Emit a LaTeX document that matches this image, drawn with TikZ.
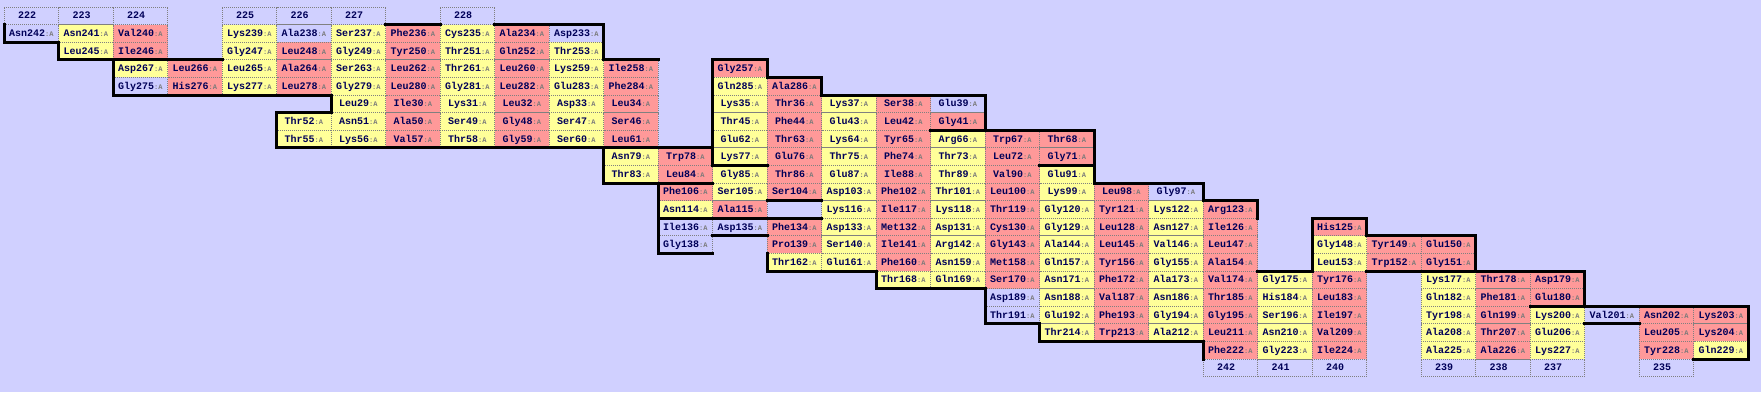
\documentclass[tikz,border=0pt]{standalone}
\usepackage{fontspec}
\setmonofont{Liberation Mono}
\usepackage{xcolor}
\definecolor{bgblue}{HTML}{D0D0FF}
\definecolor{resy}{HTML}{FFFF99}
\definecolor{resr}{HTML}{FF9999}
\definecolor{resb}{HTML}{CDCDFF}
\definecolor{resink}{HTML}{000058}
\definecolor{chaingray}{HTML}{7A7A7A}
\definecolor{gridgray}{HTML}{808080}
\newcommand{\chainA}{{\fontsize{7}{8}\selectfont\color{chaingray}:A}}

\begin{document}
\begin{tikzpicture}[
    x=54.5pt, y=-17.6pt,
    cell/.style={draw=gridgray, line width=0.8pt, dash pattern=on 0.8pt off 1.2pt, minimum width=54.5pt, minimum height=17.6pt, inner sep=0pt, text height=6.2pt, text depth=0.2pt, font=\ttfamily\bfseries\fontsize{10}{12}\selectfont, text=resink},
    res/.style={cell, fill=res#1},
    numcell/.style={cell},
    outline/.style={draw=black, line width=3pt, line cap=rect, line join=miter}
]
\fill[bgblue] (0pt,0pt) rectangle (1761pt,-392pt);
\useasboundingbox (0pt,0pt) rectangle (1761pt,-392pt);

\begin{scope}[shift={(4pt,-7pt)}]
% Residue numbers, top and bottom
\foreach \c/\t in {0/222,1/223,2/224,4/225,5/226,6/227,8/228}
  \node[numcell] (top\t) at (\c+0.5,0.5) {\t\phantom{\chainA}};
\foreach \c/\t in {22/242,23/241,24/240,26/239,27/238,28/237,30/235}
  \node[numcell] (bot\t) at (\c+0.5,20.5) {\t\phantom{\chainA}};

% Rows 1--4
\foreach \c/\r/\n/\k in {0/1/Asn242/b,1/1/Asn241/y,2/1/Val240/r,4/1/Lys239/y,5/1/Ala238/b,6/1/Ser237/y,7/1/Phe236/r,8/1/Cys235/y,9/1/Ala234/r,10/1/Asp233/b,
  1/2/Leu245/y,2/2/Ile246/r,4/2/Gly247/y,5/2/Leu248/r,6/2/Gly249/y,7/2/Tyr250/r,8/2/Thr251/y,9/2/Gln252/r,10/2/Thr253/y,
  2/3/Asp267/y,3/3/Leu266/r,4/3/Leu265/y,5/3/Ala264/r,6/3/Ser263/y,7/3/Leu262/r,8/3/Thr261/y,9/3/Leu260/r,10/3/Lys259/y,11/3/Ile258/r,13/3/Gly257/r,
  2/4/Gly275/b,3/4/His276/r,4/4/Lys277/y,5/4/Leu278/r,6/4/Gly279/y,7/4/Leu280/r,8/4/Gly281/y,9/4/Leu282/r,10/4/Glu283/y,11/4/Phe284/r,13/4/Gln285/y,14/4/Ala286/r}
  \node[res=\k] (\n) at (\c+0.5,\r+0.5) {\n\chainA};

% Rows 5--10
\foreach \c/\r/\n/\k in {6/5/Leu29/y,7/5/Ile30/r,8/5/Lys31/y,9/5/Leu32/r,10/5/Asp33/y,11/5/Leu34/r,13/5/Lys35/y,14/5/Thr36/r,15/5/Lys37/y,16/5/Ser38/r,17/5/Glu39/b,
  5/6/Thr52/y,6/6/Asn51/y,7/6/Ala50/r,8/6/Ser49/y,9/6/Gly48/r,10/6/Ser47/y,11/6/Ser46/r,13/6/Thr45/y,14/6/Phe44/r,15/6/Glu43/y,16/6/Leu42/r,17/6/Gly41/r,
  5/7/Thr55/y,6/7/Lys56/y,7/7/Val57/r,8/7/Thr58/y,9/7/Gly59/r,10/7/Ser60/y,11/7/Leu61/r,13/7/Glu62/y,14/7/Thr63/r,15/7/Lys64/y,16/7/Tyr65/r,17/7/Arg66/y,18/7/Trp67/r,19/7/Thr68/r,
  11/8/Asn79/y,12/8/Trp78/r,13/8/Lys77/y,14/8/Glu76/r,15/8/Thr75/y,16/8/Phe74/r,17/8/Thr73/y,18/8/Leu72/r,19/8/Gly71/r,
  11/9/Thr83/y,12/9/Leu84/r,13/9/Gly85/y,14/9/Thr86/r,15/9/Glu87/y,16/9/Ile88/r,17/9/Thr89/y,18/9/Val90/r,19/9/Glu91/y,
  12/10/Phe106/r,13/10/Ser105/y,14/10/Ser104/r,15/10/Asp103/y,16/10/Phe102/r,17/10/Thr101/y,18/10/Leu100/r,19/10/Lys99/y,20/10/Leu98/r,21/10/Gly97/b}
  \node[res=\k] (\n) at (\c+0.5,\r+0.5) {\n\chainA};

% Rows 11--15
\foreach \c/\r/\n/\k in {12/11/Asn114/y,13/11/Ala115/r,15/11/Lys116/y,16/11/Ile117/r,17/11/Lys118/y,18/11/Thr119/r,19/11/Gly120/y,20/11/Tyr121/r,21/11/Lys122/y,22/11/Arg123/r,
  12/12/Ile136/b,13/12/Asp135/b,14/12/Phe134/r,15/12/Asp133/y,16/12/Met132/r,17/12/Asp131/y,18/12/Cys130/r,19/12/Gly129/y,20/12/Leu128/r,21/12/Asn127/y,22/12/Ile126/r,24/12/His125/r,
  12/13/Gly138/b,14/13/Pro139/r,15/13/Ser140/y,16/13/Ile141/r,17/13/Arg142/y,18/13/Gly143/r,19/13/Ala144/y,20/13/Leu145/r,21/13/Val146/y,22/13/Leu147/r,24/13/Gly148/y,25/13/Tyr149/r,26/13/Glu150/r,
  14/14/Thr162/y,15/14/Glu161/y,16/14/Phe160/r,17/14/Asn159/y,18/14/Met158/r,19/14/Gln157/y,20/14/Tyr156/r,21/14/Gly155/y,22/14/Ala154/r,24/14/Leu153/y,25/14/Trp152/r,26/14/Gly151/r,
  16/15/Thr168/y,17/15/Gln169/y,18/15/Ser170/r,19/15/Asn171/y,20/15/Phe172/r,21/15/Ala173/y,22/15/Val174/r,23/15/Gly175/y,24/15/Tyr176/r,26/15/Lys177/y,27/15/Thr178/r,28/15/Asp179/r}
  \node[res=\k] (\n) at (\c+0.5,\r+0.5) {\n\chainA};

% Rows 16--19
\foreach \c/\r/\n/\k in {18/16/Asp189/b,19/16/Asn188/y,20/16/Val187/r,21/16/Asn186/y,22/16/Thr185/r,23/16/His184/y,24/16/Leu183/r,26/16/Gln182/y,27/16/Phe181/r,28/16/Glu180/r,
  18/17/Thr191/b,19/17/Glu192/y,20/17/Phe193/r,21/17/Gly194/y,22/17/Gly195/r,23/17/Ser196/y,24/17/Ile197/r,26/17/Tyr198/y,27/17/Gln199/r,28/17/Lys200/y,29/17/Val201/b,30/17/Asn202/r,31/17/Lys203/r,
  19/18/Thr214/y,20/18/Trp213/r,21/18/Ala212/y,22/18/Leu211/r,23/18/Asn210/y,24/18/Val209/r,26/18/Ala208/y,27/18/Thr207/r,28/18/Glu206/y,30/18/Leu205/r,31/18/Lys204/r,
  22/19/Phe222/r,23/19/Gly223/y,24/19/Ile224/r,26/19/Ala225/y,27/19/Ala226/r,28/19/Lys227/y,30/19/Tyr228/r,31/19/Gln229/y}
  \node[res=\k] (\n) at (\c+0.5,\r+0.5) {\n\chainA};

% Sheet outlines
\draw[outline] (0,1) -- (0,2) -- (1,2) -- (1,3) -- (4,3);
\draw[outline] (2,3) -- (2,5) -- (6,5) -- (6,6) -- (5,6) -- (5,8) -- (13,8);
\draw[outline] (7,1) -- (8,1);
\draw[outline] (9,1) -- (11,1) -- (11,3) -- (12,3);
\draw[outline] (13,9) -- (13,3) -- (14,3) -- (14,4) -- (15,4) -- (15,5) -- (18,5) -- (18,7);
\draw[outline] (17,7) -- (20,7) -- (20,10) -- (22,10) -- (22,11) -- (23,11) -- (23,12);
\draw[outline] (19,9) -- (20,9);
\draw[outline] (13,9) -- (14,9);
\draw[outline] (11,8) -- (11,10) -- (13,10);
\draw[outline] (12,10) -- (12,14) -- (13,14);
\draw[outline] (12,12) -- (15,12);
\draw[outline] (13,13) -- (14,13);
\draw[outline] (14,11) -- (15,11);
\draw[outline] (14,14) -- (14,15) -- (16,15) -- (16,16) -- (18,16) -- (18,18) -- (19,18) -- (19,19) -- (22,19) -- (22,20);
\draw[outline] (23,15) -- (24,15) -- (24,12) -- (25,12) -- (25,13) -- (27,13) -- (27,15) -- (29,15) -- (29,17);
\draw[outline] (25,15) -- (27,15);
\draw[outline] (28,17) -- (32,17) -- (32,20) -- (31,20);
\draw[outline] (29,18) -- (30,18);
\end{scope}
\end{tikzpicture}
\end{document}
